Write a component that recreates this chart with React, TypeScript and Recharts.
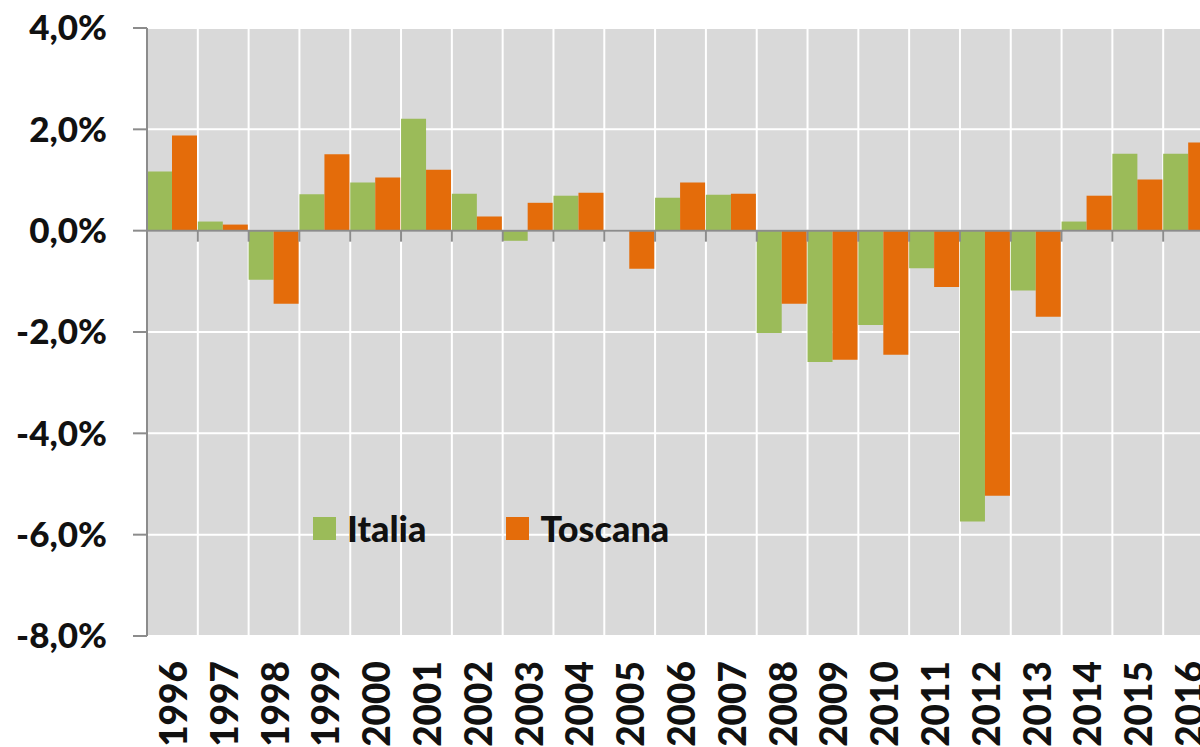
import { BarChart, Bar, XAxis, YAxis, CartesianGrid, ReferenceLine } from 'recharts'

const years = ['1996', '1997', '1998', '1999', '2000', '2001', '2002', '2003', '2004', '2005', '2006',
  '2007', '2008', '2009', '2010', '2011', '2012', '2013', '2014', '2015', '2016']
const italia = [1.17, 0.18, -0.97, 0.72, 0.95, 2.21, 0.73, -0.2, 0.69, 0, 0.65,
  0.71, -2.02, -2.59, -1.86, -0.74, -5.74, -1.18, 0.18, 1.52, 1.52]
const toscana = [1.88, 0.12, -1.44, 1.51, 1.05, 1.2, 0.28, 0.55, 0.75, -0.75, 0.95,
  0.73, -1.44, -2.55, -2.45, -1.11, -5.23, -1.7, 0.69, 1.01, 1.74]
const yTicks = [-8, -6, -4, -2, 0, 2, 4]
const seriesNames = ['Italia', 'Toscana']

const data = years.map((year, i) => ({ year, Italia: italia[i], Toscana: toscana[i] }))

const FONT = 'Lato, "Open Sans", sans-serif'
const GREEN = '#9bbb59'
const ORANGE = '#e46c0a'
const AXIS = '#8c8c8c'
const colors = [GREEN, ORANGE]

const fmt = (v: number) => v.toFixed(1).replace('.', ',') + '%'

function YearTick({ x, y, payload }: any) {
  const ty = y + 25
  return (
    <text x={x} y={ty} transform={`rotate(-90 ${x} ${ty})`} textAnchor="end" dominantBaseline="central"
      fontFamily={FONT} fontWeight={900} fontSize={37} fill="#111">
      {payload.value}
    </text>
  )
}

function ZeroLine(props: any) {
  const { x1, y1, x2 } = props
  const step = (x2 - x1) / years.length
  return (
    <g>
      <line x1={x1} y1={y1} x2={x2} y2={y1} stroke={AXIS} strokeWidth={2} />
      {years.map((yr, i) => (
        <line key={yr} x1={x1 + step * (i + 1)} x2={x1 + step * (i + 1)} y1={y1} y2={y1 + 11} stroke={AXIS} strokeWidth={2} />
      ))}
    </g>
  )
}

export default function App() {
  return (
    <div style={{ position: 'absolute', left: 0, top: 0, width: 1200, height: 747, overflow: 'hidden', background: '#fff' }}>
      <BarChart width={1214} height={747} data={data} margin={{ top: 28, right: 0, left: 0, bottom: 0 }}
        barCategoryGap={0} barGap={0}>
        <CartesianGrid fill="#d9d9d9" stroke="#ffffff" strokeWidth={2}
          verticalCoordinatesGenerator={({ offset }: any) =>
            years.map((_, i) => offset.left + (offset.width / years.length) * i)} />
        <XAxis dataKey="year" height={111} axisLine={false} tickLine={false} tickSize={0} tickMargin={0}
          interval={0} tick={<YearTick />} />
        <YAxis domain={[-8, 4]} ticks={yTicks} width={147} tickFormatter={fmt}
          axisLine={{ stroke: AXIS, strokeWidth: 2 }} tickLine={{ stroke: AXIS, strokeWidth: 2 }}
          tickSize={14} tickMargin={26}
          tick={{ fontFamily: FONT, fontWeight: 900, fontSize: 35, fill: '#111' }} />
        <Bar dataKey="Italia" fill={GREEN} isAnimationActive={false} />
        <Bar dataKey="Toscana" fill={ORANGE} isAnimationActive={false} />
        <ReferenceLine y={0} shape={<ZeroLine />} />
      </BarChart>
      <div style={{ position: 'absolute', left: 313, top: 508, display: 'flex', alignItems: 'center',
        fontFamily: FONT, fontWeight: 900, fontSize: 36, color: '#111', lineHeight: '40px' }}>
        {seriesNames.map((name, i) => (
          <div key={name} style={{ display: 'flex', alignItems: 'center', marginRight: 80 }}>
            <span style={{ width: 23, height: 23, background: colors[i], display: 'inline-block', marginRight: 11 }} />
            <span>{name}</span>
          </div>
        ))}
      </div>
    </div>
  )
}
